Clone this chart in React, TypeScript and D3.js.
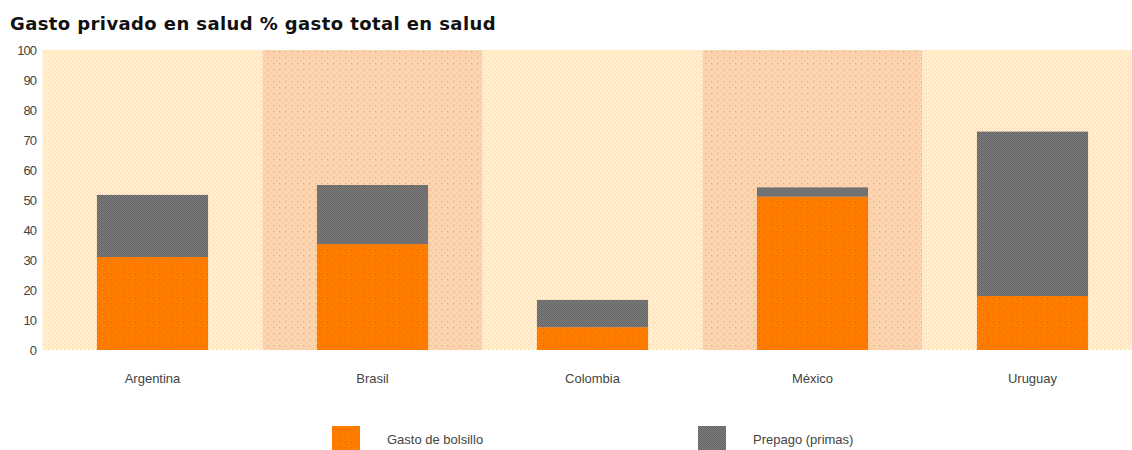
import React from "react";
import * as d3 from "d3";

const categories = ["Argentina", "Brasil", "Colombia", "México", "Uruguay"];
const gastoBolsillo = [31, 35.3, 7.6, 51.1, 18];
const prepago = [20.7, 19.7, 9.1, 3.1, 54.8];
const yTicks = [0, 10, 20, 30, 40, 50, 60, 70, 80, 90, 100];
const seriesNames = ["Gasto de bolsillo", "Prepago (primas)"];

const W = 1132;
const H = 450;
const plotLeft = 42.5;
const plotRight = 1142.5;
const plotTop = 50;
const plotBottom = 350;

export default function App() {
  const x = d3.scaleBand<string>().domain(categories).range([plotLeft, plotRight]).padding(0);
  const y = d3.scaleLinear().domain([0, 100]).range([plotBottom, plotTop]);
  const bw = x.bandwidth() * 0.505;
  const font = "'DejaVu Sans', Verdana, sans-serif";

  return (
    <svg width={W} height={H} style={{ position: "absolute", left: 0, top: 0, background: "#fff" }}>
      <defs>
        <pattern id="bgLight" width="4" height="4" patternUnits="userSpaceOnUse">
          <rect width="4" height="4" fill="#fff2c6" />
          <rect x="0" y="0" width="1" height="1" fill="#fcc8c0" />
          <rect x="2" y="2" width="1" height="1" fill="#fcc8c0" />
        </pattern>
        <pattern id="bgDark" width="6" height="6" patternUnits="userSpaceOnUse">
          <rect width="6" height="6" fill="#fbd2ac" />
          <rect x="0" y="0" width="1" height="1" fill="#ffbca4" />
          <rect x="2" y="2" width="1" height="1" fill="#ffe6b4" />
          <rect x="4" y="4" width="1" height="1" fill="#ffbca4" />
          <rect x="4" y="0" width="1" height="1" fill="#ffe6b4" />
          <rect x="0" y="4" width="1" height="1" fill="#ffe6b4" />
          <rect x="3" y="3" width="1" height="1" fill="#c4b490" />
        </pattern>
        <pattern id="orangeP" width="6" height="6" patternUnits="userSpaceOnUse">
          <rect width="6" height="6" fill="#ff7800" />
          <rect x="0" y="0" width="1" height="1" fill="#ff9000" />
          <rect x="2" y="2" width="1" height="1" fill="#ff9000" />
          <rect x="4" y="4" width="1" height="1" fill="#ff9000" />
          <rect x="3" y="3" width="1" height="1" fill="#c86a20" />
        </pattern>
        <pattern id="grayP" width="2" height="2" patternUnits="userSpaceOnUse">
          <rect width="2" height="2" fill="#7c7c7c" />
          <rect x="0" y="0" width="1" height="1" fill="#666" />
          <rect x="1" y="1" width="1" height="1" fill="#666" />
        </pattern>
      </defs>

      <text x={10} y={30} fontFamily={font} fontWeight="bold" fontSize={18} letterSpacing={0.4} fill="#111">
        Gasto privado en salud % gasto total en salud
      </text>

      {categories.map((c, i) => (
        <rect
          key={"bg" + c}
          x={x(c)}
          y={plotTop}
          width={x.bandwidth()}
          height={plotBottom - plotTop}
          fill={i % 2 === 1 ? "url(#bgDark)" : "url(#bgLight)"}
        />
      ))}

      {yTicks.map((t) => (
        <text
          key={"yt" + t}
          x={36}
          y={y(t)}
          dy="0.35em"
          textAnchor="end"
          fontFamily="'Liberation Sans', Arial, sans-serif"
          fontSize={13}
          fill="#444"
          letterSpacing={-1}
        >
          {t}
        </text>
      ))}

      {categories.map((c, i) => {
        const cx = (x(c) as number) + x.bandwidth() / 2;
        const total = gastoBolsillo[i] + prepago[i];
        return (
          <g key={"bar" + c}>
            <rect x={cx - bw / 2} y={y(gastoBolsillo[i])} width={bw} height={y(0) - y(gastoBolsillo[i])} fill="url(#orangeP)" />
            <rect x={cx - bw / 2} y={y(total)} width={bw} height={y(gastoBolsillo[i]) - y(total)} fill="url(#grayP)" />
            <text x={cx} y={383} textAnchor="middle" fontFamily="'Liberation Sans', Arial, sans-serif" fontSize={13} fill="#444">
              {c}
            </text>
          </g>
        );
      })}

      {seriesNames.map((s, i) => {
        const lx = i === 0 ? 332 : 698;
        return (
          <g key={"lg" + s}>
            <rect x={lx} y={426} width={28} height={26} fill={i === 0 ? "url(#orangeP)" : "url(#grayP)"} />
            <text x={lx + 55} y={444} fontFamily="'Liberation Sans', Arial, sans-serif" fontSize={13} fill="#444">
              {s}
            </text>
          </g>
        );
      })}
    </svg>
  );
}
